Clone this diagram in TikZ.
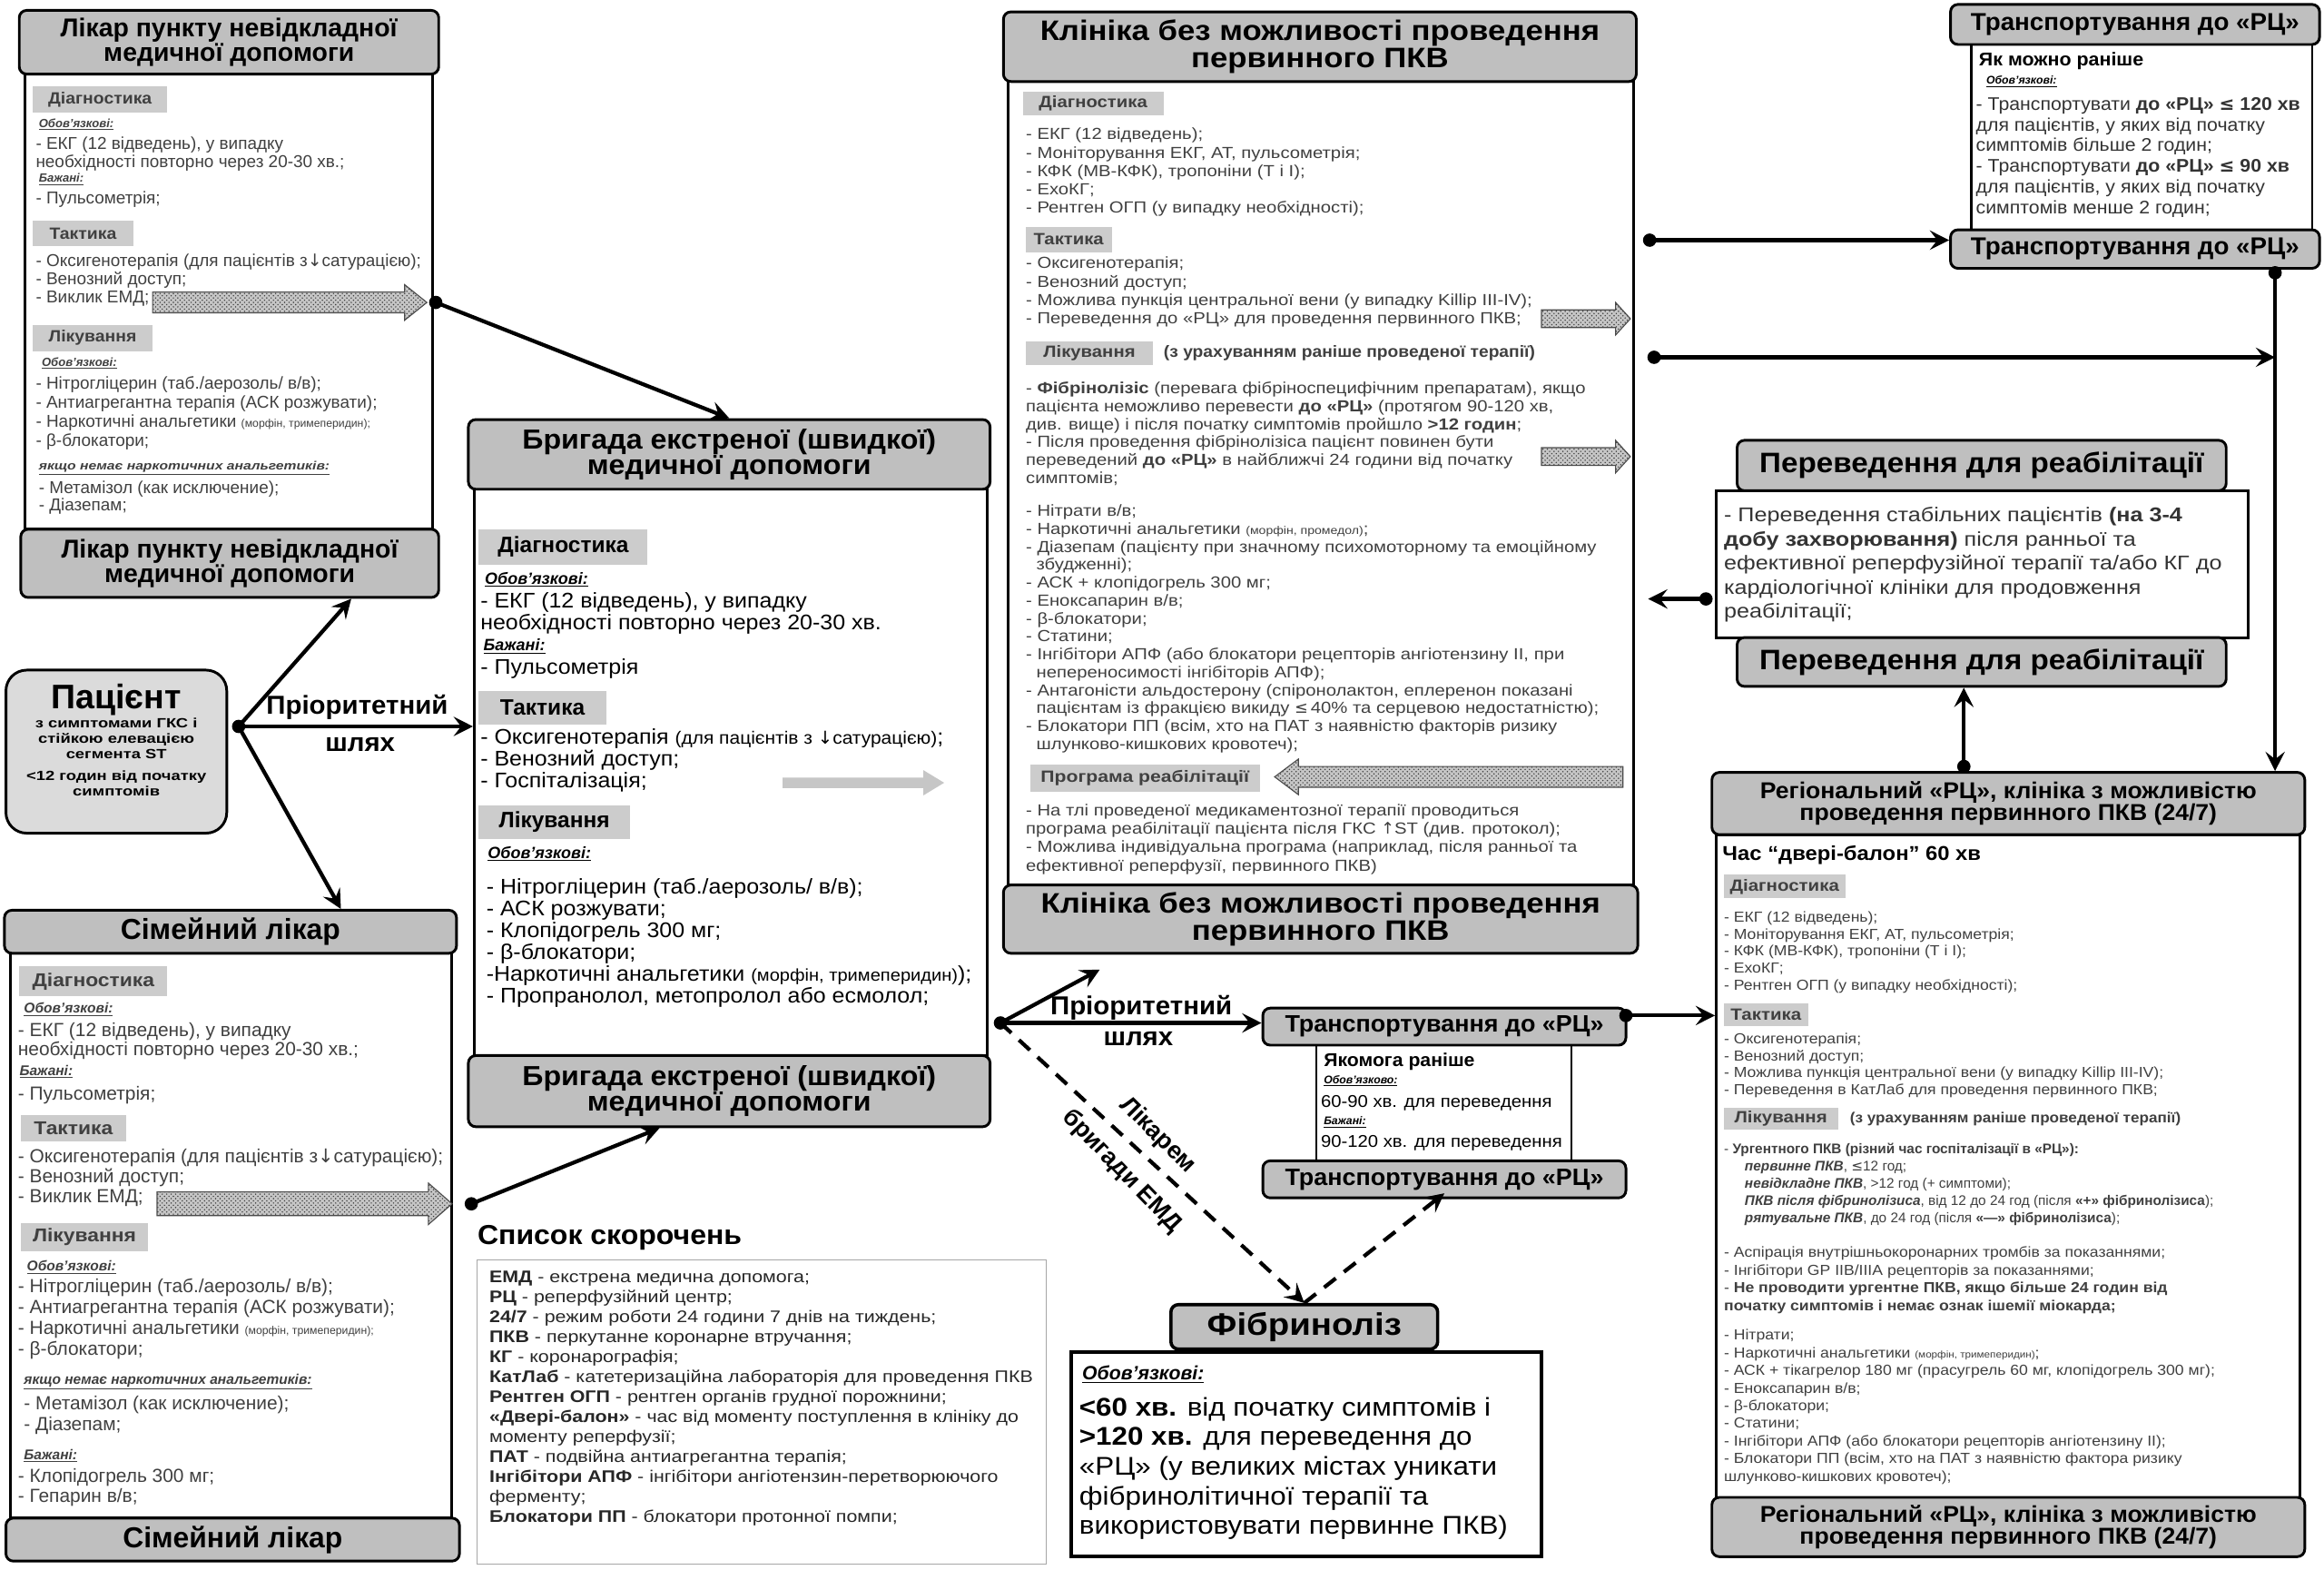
\documentclass[tikz,border=0pt]{standalone}
\usepackage{fontspec}
\setmainfont{Liberation Sans}
\newfontfamily\symfont{DejaVu Sans}
\usetikzlibrary{arrows.meta,patterns}
\definecolor{hdrgray}{gray}{0.75}
\definecolor{taggray}{gray}{0.8}
\definecolor{patgray}{gray}{0.86}
\newcommand{\fatarrow}[6]{% tail x, tip x, y, shaft half, head half, head length (signed)
  \pgfmathsetmacro\hb{#2-(#6)}
  \draw[fatarr] (#1,#3-#4) -- (\hb,#3-#4) -- (\hb,#3-#5) -- (#2,#3) -- (\hb,#3+#5) -- (\hb,#3+#4) -- (#1,#3+#4) -- cycle;}
\newcommand{\arrdn}{{\symfont\char"2193}}
\newcommand{\arrup}{{\symfont\char"2191}}
\newcommand{\lesym}{{\symfont\char"2264}}
\newcommand{\wide}[1]{\addfontfeatures{FakeStretch=#1}}
\begin{document}
\begin{tikzpicture}[x=1pt,y=-1pt,
  hdr/.style={draw, rounded corners=5pt, line width=1.8pt, fill=hdrgray, align=center, inner sep=0pt},
  hf/.style n args={3}{font=\fontsize{#1}{#2}\selectfont\wide{#3}\bfseries},
  body/.style={draw, line width=1.8pt, fill=white, inner sep=0pt},
  tag/.style 2 args={fill=taggray, inner sep=0pt, font=\fontsize{#1}{#1}\selectfont\wide{#2}\bfseries},
  lbl/.style={anchor=west, inner sep=0pt, font=\fontsize{#1}{#1}\selectfont\bfseries\itshape},
  txt/.style={anchor=north west, inner sep=0pt, align=left},
  fs/.style n args={3}{font=\fontsize{#1}{#2}\selectfont\wide{#3}},
  conn/.style={line width=2.6pt, -{Stealth[length=13pt,width=13pt,inset=5pt]}},
  dot/.style={circle, fill, inner sep=0pt, minimum size=9pt},
  fatarr/.style={draw=black!70, line width=0.7pt, fill=gray!45, postaction={pattern=crosshatch dots, pattern color=black!75}}]

\useasboundingbox (0,0) rectangle (1568,1059);

% left top box
\node[body, minimum width=275pt, minimum height=307pt] (urgBody) at (154.5,203.5) {};
\node[hdr, minimum width=283pt, minimum height=43pt, hf={17.4}{15.5}{1}] (urgTop) at (154.5,28.5) {Лікар пункту невідкладної\\медичної допомоги};
\node[hdr, minimum width=282pt, minimum height=46pt, hf={17.4}{15.5}{1}] (urgBot) at (155,380) {Лікар пункту невідкладної\\медичної допомоги};
\begin{scope}[text=black!75]
\node[tag={11}{1.08}, minimum width=91pt, minimum height=18pt] (urgDiag) at (67.5,67) {Діагностика};
\node[lbl=8] (urgL1) at (26,84) {\underline{Обов’язкові:}};
\node[txt, fs={11.6}{12.7}{1}] (urgT1) at (24,92) {- ЕКГ (12 відведень), у випадку\\необхідності повторно через 20-30 хв.;};
\node[lbl=8] (urgL2) at (26,121) {\underline{Бажані:}};
\node[txt, fs={11.6}{12.7}{1}] (urgT2) at (24,129) {- Пульсометрія;};
\node[tag={11}{1.08}, minimum width=68pt, minimum height=17pt] (urgTact) at (56,157.5) {Тактика};
\node[txt, fs={11.6}{12.2}{1}] (urgT3) at (24,171) {- Оксигенотерапія (для пацієнтів з\arrdn сатурацією);\\- Венозний доступ;\\- Виклик ЕМД;};
\node[tag={11}{1.08}, minimum width=81pt, minimum height=18pt] (urgTreat) at (62.5,228) {Лікування};
\node[lbl=8] (urgL3) at (28,245) {\underline{Обов’язкові:}};
\node[txt, fs={11.6}{12.7}{1}] (urgT4) at (24,254) {- Нітрогліцерин (таб./аерозоль/ в/в);\\- Антиагрегантна терапія (АСК розжувати);\\- Наркотичні анальгетики {\fontsize{7.5}{8}\selectfont (морфін, тримеперидин);}\\- β-блокатори;};
\node[lbl=8] (urgL4) at (26,316) {\underline{\wide{1.2}якщо немає наркотичних анальгетиків:}};
\node[txt, fs={11.6}{12.2}{1}] (urgT5) at (26,324) {- Метамізол (как исключение);\\- Діазепам;};
\end{scope}
\fatarrow{103}{288}{204}{7}{12}{15}

% patient
\node[draw, rounded corners=14pt, line width=1.8pt, fill=patgray, minimum width=149pt, minimum height=110pt] (pat) at (78.5,507) {};
\node[font=\fontsize{23}{23}\selectfont\bfseries, inner sep=0pt] (patName) at (78.5,472) {Пацієнт};
\node[align=center, inner sep=0pt, anchor=north, font=\fontsize{9}{10.5}\selectfont\wide{1.25}\bfseries] (patNote) at (78.5,484) {з симптомами ГКС і\\стійкою елевацією\\сегмента ST\\[4pt]<12 годин від початку\\симптомів};

% family doctor box
\node[body, minimum width=298pt, minimum height=381pt] (famBody) at (156,833.5) {};
\node[hdr, minimum width=305pt, minimum height=29pt, hf={19.5}{19}{1}] (famTop) at (155.5,628.5) {Сімейний лікар};
\node[hdr, minimum width=306pt, minimum height=29pt, hf={19.5}{19}{1}] (famBot) at (157,1038.5) {Сімейний лікар};
\begin{scope}[text=black!75]
\node[tag={12.5}{1.12}, minimum width=100pt, minimum height=20pt] (famDiag) at (63,662) {Діагностика};
\node[lbl=9.5] (famL1) at (16,681) {\underline{Обов’язкові:}};
\node[txt, fs={12.8}{13.2}{1}] (famT1) at (12,689.5) {- ЕКГ (12 відведень), у випадку\\необхідності повторно через 20-30 хв.;};
\node[lbl=9.5] (famL2) at (13,723) {\underline{Бажані:}};
\node[txt, fs={12.8}{13.2}{1}] (famT2) at (12,732.5) {- Пульсометрія;};
\node[tag={12.5}{1.12}, minimum width=71pt, minimum height=18pt] (famTact) at (49.5,761) {Тактика};
\node[txt, fs={12.8}{13.5}{1}] (famT3) at (12,774.5) {- Оксигенотерапія (для пацієнтів з\arrdn сатурацією);\\- Венозний доступ;\\- Виклик ЕМД;};
\node[tag={12.5}{1.12}, minimum width=86pt, minimum height=19pt] (famTreat) at (57,834.5) {Лікування};
\node[lbl=9.5] (famL3) at (18,855) {\underline{Обов’язкові:}};
\node[txt, fs={12.8}{14}{1}] (famT4) at (12,862.5) {- Нітрогліцерин (таб./аерозоль/ в/в);\\- Антиагрегантна терапія (АСК розжувати);\\- Наркотичні анальгетики {\fontsize{7.5}{8}\selectfont (морфін, тримеперидин);}\\- β-блокатори;};
\node[lbl=9.5] (famL4) at (16,932) {\underline{якщо немає наркотичних анальгетиків:}};
\node[txt, fs={12.8}{14}{1}] (famT5) at (16,941.5) {- Метамізол (как исключение);\\- Діазепам;};
\node[lbl=9.5] (famL5) at (16,982) {\underline{Бажані:}};
\node[txt, fs={12.8}{13.5}{1}] (famT6) at (12,990.5) {- Клопідогрель 300 мг;\\- Гепарин в/в;};
\end{scope}
\fatarrow{106}{305}{812}{8}{14}{16}

% emergency team box
\node[body, minimum width=346pt, minimum height=382pt] (emdBody) at (493,521) {};
\node[hdr, minimum width=352pt, minimum height=47pt, hf={18.6}{17}{1.06}] (emdTop) at (492,306.5) {Бригада екстреної (швидкої)\\медичної допомоги};
\node[hdr, minimum width=352pt, minimum height=48pt, hf={18.6}{17}{1.06}] (emdBot) at (492,736) {Бригада екстреної (швидкої)\\медичної допомоги};
\node[tag={15}{1}, minimum width=114pt, minimum height=24pt] (emdDiag) at (380,369) {Діагностика};
\node[lbl=11] (emdL1) at (327,391) {\underline{Обов’язкові:}};
\node[txt, fs={14.3}{14.5}{1.07}] (emdT1) at (324,399.5) {- ЕКГ (12 відведень), у випадку\\необхідності повторно через 20-30 хв.};
\node[lbl=11] (emdL2) at (326,436) {\underline{Бажані:}};
\node[txt, fs={14.3}{14.5}{1.07}] (emdT2) at (324,444.5) {- Пульсометрія};
\node[tag={15}{1}, minimum width=86pt, minimum height=23pt] (emdTact) at (366,477.5) {Тактика};
\node[txt, fs={14.3}{14.5}{1.07}] (emdT3) at (324,491.5) {- Оксигенотерапія {\fontsize{12}{12}\selectfont (для пацієнтів з \arrdn сатурацією)};\\- Венозний доступ;\\- Госпіталізація;};
\node[tag={15}{1}, minimum width=102pt, minimum height=23pt] (emdTreat) at (374,554.5) {Лікування};
\node[lbl=11] (emdL3) at (329,576) {\underline{Обов’язкові:}};
\node[txt, fs={14.3}{14.7}{1.07}] (emdT4) at (328,592.5) {- Нітрогліцерин (таб./аерозоль/ в/в);\\- АСК розжувати;\\- Клопідогрель 300 мг;\\- β-блокатори;\\-Наркотичні анальгетики {\fontsize{11.5}{12}\selectfont (морфін, тримеперидин)});\\- Пропранолол, метопролол або есмолол;};
\fill[gray!45] (528,524.5) -- (623,524.5) -- (623,519.5) -- (637,528) -- (623,536.5) -- (623,531.5) -- (528,531.5) -- cycle;

% clinic without PCI
\node[body, minimum width=422pt, minimum height=542pt] (clnBody) at (891,326) {};
\node[hdr, minimum width=427pt, minimum height=47pt, hf={19}{18}{1.12}] (clnTop) at (890.5,31.5) {Клініка без можливості проведення\\первинного ПКВ};
\node[hdr, minimum width=428pt, minimum height=46pt, hf={19}{18}{1.12}] (clnBot) at (891,620) {Клініка без можливості проведення\\первинного ПКВ};
\begin{scope}[text=black!75]
\node[tag={11}{1.13}, minimum width=95pt, minimum height=16pt] (clnDiag) at (737.5,70) {Діагностика};
\node[txt, fs={10.8}{12.4}{1.15}] (clnT1) at (692,86.2) {- ЕКГ (12 відведень);\\- Моніторування ЕКГ, АТ, пульсометрія;\\- КФК (МВ-КФК), тропоніни (Т і І);\\- ЕхоКГ;\\- Рентген ОГП (у випадку необхідності);};
\node[tag={11}{1.13}, minimum width=58pt, minimum height=17pt] (clnTact) at (721,161.5) {Тактика};
\node[txt, fs={10.8}{12.4}{1.15}] (clnT2) at (692,173.2) {- Оксигенотерапія;\\- Венозний доступ;\\- Можлива пункція центральної вени (у випадку Killip III-IV);\\- Переведення до «РЦ» для проведення первинного ПКВ;};
\node[tag={11}{1.13}, minimum width=86pt, minimum height=16pt] (clnTreat) at (735,238) {Лікування};
\node[anchor=west, inner sep=0pt, font=\fontsize{11}{11}\selectfont\wide{1.07}\bfseries] (clnTreatN) at (785,238) {(з урахуванням раніше проведеної терапії)};
\node[txt, fs={10.8}{12.2}{1.15}] (clnT3) at (692,257.2) {- \textbf{Фібрінолізіс} (перевага фібріноспецифічним препаратам), якщо\\пацієнта неможливо перевести \textbf{до «РЦ»} (протягом 90-120 хв,\\див. вище) і після початку симптомів пройшло \textbf{>12 годин};\\- Після проведення фібрінолізіса пацієнт повинен бути\\переведений \textbf{до «РЦ»} в найближчі 24 години від початку\\симптомів;};
\node[txt, fs={10.8}{12.1}{1.15}] (clnT4) at (692,340.2) {- Нітрати в/в;\\- Наркотичні анальгетики {\fontsize{7.5}{8}\selectfont (морфін, промедол)};\\- Діазепам (пацієнту при значному психомоторному та емоційному\\\hspace*{7pt}збудженні);\\- АСК + клопідогрель 300 мг;\\- Еноксапарин в/в;\\- β-блокатори;\\- Статини;\\- Інгібітори АПФ (або блокатори рецепторів ангіотензину II, при\\\hspace*{7pt}непереносимості інгібіторів АПФ);\\- Антагоністи альдостерону (спіронолактон, еплеренон показані\\\hspace*{7pt}пацієнтам із фракцією викиду \lesym\,40\% та серцевою недостатністю);\\- Блокатори ПП (всім, хто на ПАТ з наявністю факторів ризику\\\hspace*{7pt}шлунково-кишкових кровотеч);};
\node[tag={11}{1.18}, minimum width=155pt, minimum height=18pt] (clnRehab) at (772.5,525) {Програма реабілітації};
\node[txt, fs={10.8}{12.4}{1.15}] (clnT5) at (692,542.2) {- На тлі проведеної медикаментозної терапії проводиться\\програма реабілітації пацієнта після ГКС \arrup ST (див. протокол);\\- Можлива індивідуальна програма (наприклад, після ранньої та\\ефективної реперфузії, первинного ПКВ)};
\end{scope}
\fatarrow{1040}{1100}{215}{6}{11}{10}
\fatarrow{1040}{1100}{308}{6}{11}{10}
\fatarrow{1095}{860}{524}{7}{12}{-16}

% transport (top right)
\node[body, minimum width=230pt, minimum height=125pt] (trbBody) at (1445,92.5) {};
\node[hdr, minimum width=249pt, minimum height=27pt, hf={16.5}{16.5}{1.03}] (trbTop) at (1440.5,16.5) {Транспортування до «РЦ»};
\node[hdr, minimum width=249pt, minimum height=26pt, hf={16.5}{16.5}{1.03}] (trbBot) at (1440.5,168) {Транспортування до «РЦ»};
\node[anchor=west, inner sep=0pt, font=\fontsize{12.5}{12.5}\selectfont\wide{1.05}\bfseries] (trbHead) at (1335,41) {Як можно раніше};
\node[lbl=7.5] (trbL1) at (1340,55) {\underline{Обов’язкові:}};
\node[txt, fs={12.3}{14}{1.06}, text=black!80] (trbT1) at (1333,65.5) {- Транспортувати \textbf{до «РЦ» \lesym\ 120 хв}\\для пацієнтів, у яких від початку\\симптомів більше 2 годин;\\- Транспортувати \textbf{до «РЦ» \lesym\ 90 хв}\\для пацієнтів, у яких від початку\\симптомів менше 2 годин;};

% rehabilitation transfer
\node[body, minimum width=359pt, minimum height=99pt] (rehBody) at (1337.5,380.5) {};
\node[hdr, minimum width=330pt, minimum height=34pt, hf={19}{19}{1.07}] (rehTop) at (1337,314) {Переведення для реабілітації};
\node[hdr, minimum width=330pt, minimum height=33pt, hf={19}{19}{1.07}] (rehBot) at (1337,446.5) {Переведення для реабілітації};
\node[txt, fs={13.4}{16.2}{1.15}, text=black!80] (rehT1) at (1163,342) {- Переведення стабільних пацієнтів \textbf{(на 3-4}\\\textbf{добу захворювання)} після ранньої та\\ефективної реперфузійної терапії та/або КГ до\\кардіологічної клініки для продовження\\реабілітації;};

% regional centre
\node[body, minimum width=394pt, minimum height=447pt] (rcBody) at (1355,786.5) {};
\node[hdr, minimum width=400pt, minimum height=42pt, hf={15.5}{15}{1.05}] (rcTop) at (1355,542) {Регіональний «РЦ», клініка з можливістю\\проведення первинного ПКВ (24/7)};
\node[hdr, minimum width=400pt, minimum height=40pt, hf={15.5}{15}{1.05}] (rcBot) at (1355,1030) {Регіональний «РЦ», клініка з можливістю\\проведення первинного ПКВ (24/7)};
\node[anchor=west, inner sep=0pt, font=\fontsize{13.5}{13.5}\selectfont\wide{1.08}\bfseries] (rcTime) at (1162,577) {Час “двері-балон” 60 хв};
\begin{scope}[text=black!75]
\node[tag={11}{1.14}, minimum width=82pt, minimum height=16pt] (rcDiag) at (1204,598) {Діагностика};
\node[txt, fs={9.8}{11.5}{1.1}] (rcT1) at (1163,614.6) {- ЕКГ (12 відведень);\\- Моніторування ЕКГ, АТ, пульсометрія;\\- КФК (МВ-КФК), тропоніни (Т і І);\\- ЕхоКГ;\\- Рентген ОГП (у випадку необхідності);};
\node[tag={11}{1.14}, minimum width=57pt, minimum height=15pt] (rcTact) at (1191.5,684.5) {Тактика};
\node[txt, fs={9.8}{11.5}{1.1}] (rcT2) at (1163,696.6) {- Оксигенотерапія;\\- Венозний доступ;\\- Можлива пункція центральної вени (у випадку Killip III-IV);\\- Переведення в КатЛаб для проведення первинного ПКВ;};
\node[tag={11}{1.14}, minimum width=77pt, minimum height=15pt] (rcTreat) at (1201.5,754.5) {Лікування};
\node[anchor=west, inner sep=0pt, font=\fontsize{9.8}{10}\selectfont\wide{1.07}\bfseries] (rcTreatN) at (1248,755) {(з урахуванням раніше проведеної терапії)};
\node[txt, fs={9.4}{11.7}{1}] (rcT3) at (1163,770.8) {- \textbf{Ургентного ПКВ (різний час госпіталізації в «РЦ»):}\\\hspace*{14pt}\textbf{\textit{первинне ПКВ}}, \lesym 12 год;\\\hspace*{14pt}\textbf{\textit{невідкладне ПКВ}}, >12 год (+ симптоми);\\\hspace*{14pt}\textbf{\textit{ПКВ після фібринолізиса}}, від 12 до 24 год (після \textbf{«+» фібринолізиса});\\\hspace*{14pt}\textbf{\textit{рятувальне ПКВ}}, до 24 год (після \textbf{«—» фібринолізиса});};
\node[txt, fs={9.8}{12}{1.1}] (rcT4) at (1163,840.6) {- Аспірація внутрішньокоронарних тромбів за показаннями;\\- Інгібітори GP IIB/IIIA рецепторів за показаннями;\\- \textbf{Не проводити ургентне ПКВ, якщо більше 24 годин від}\\\textbf{початку симптомів і немає ознак ішемії міокарда;}};
\node[txt, fs={9.8}{11.9}{1.1}] (rcT5) at (1163,896.6) {- Нітрати;\\- Наркотичні анальгетики {\fontsize{6.5}{7}\selectfont (морфін, тримеперидин)};\\- АСК + тікагрелор 180 мг (прасугрель 60 мг, клопідогрель 300 мг);\\- Еноксапарин в/в;\\- β-блокатори;\\- Статини;\\- Інгібітори АПФ (або блокатори рецепторів ангіотензину II);\\- Блокатори ПП (всім, хто на ПАТ з наявністю фактора ризику\\шлунково-кишкових кровотеч);};
\end{scope}

% transport (middle)
\node[body, line width=1.2pt, minimum width=172pt, minimum height=78pt] (traBody) at (974,744) {};
\node[hdr, minimum width=245pt, minimum height=25pt, hf={16}{16}{1.03}] (traTop) at (974.5,692.5) {Транспортування до «РЦ»};
\node[hdr, minimum width=245pt, minimum height=25pt, hf={16}{16}{1.03}] (traBot) at (974.5,795.5) {Транспортування до «РЦ»};
\node[anchor=west, inner sep=0pt, font=\fontsize{12.5}{12.5}\selectfont\wide{1.04}\bfseries] (traHead) at (893,716) {Якомога раніше};
\node[lbl=7.5] (traL1) at (893,729) {\underline{Обов’язково:}};
\node[anchor=west, inner sep=0pt, font=\fontsize{11.5}{12}\selectfont\wide{1.08}] (traT1) at (891,744) {60-90 хв. для переведення};
\node[lbl=7.5] (traL2) at (893,757) {\underline{Бажані:}};
\node[anchor=west, inner sep=0pt, font=\fontsize{11.5}{12}\selectfont\wide{1.08}] (traT2) at (891,771) {90-120 хв. для переведення};

% fibrinolysis
\node[body, line width=2.4pt, minimum width=317pt, minimum height=138pt] (fibBody) at (881.5,981) {};
\node[hdr, line width=2.2pt, minimum width=180pt, minimum height=30pt, hf={21}{21}{1.12}] (fibTop) at (880,895) {Фібриноліз};
\node[lbl=13] (fibL1) at (730,927) {\underline{Обов’язкові:}};
\node[txt, fs={17.3}{20}{1.11}] (fibT1) at (728,942.2) {\textbf{<60 хв.} від початку симптомів і\\\textbf{>120 хв.} для переведення до\\«РЦ» (у великих містах уникати\\фібринолітичної терапії та\\використовувати первинне ПКВ)};

% abbreviations
\node[anchor=west, inner sep=0pt, font=\fontsize{18.5}{18.5}\selectfont\wide{1.06}\bfseries] (abbrHead) at (322,835) {Список скорочень};
\node[draw=gray!70, line width=0.8pt, minimum width=384pt, minimum height=205pt] (abbrBody) at (514,952.5) {};
\node[txt, fs={11.3}{13.5}{1.16}, text=black!85] (abbrT) at (330,857) {\textbf{ЕМД} - екстрена медична допомога;\\\textbf{РЦ} - реперфузійний центр;\\\textbf{24/7} - режим роботи 24 години 7 днів на тиждень;\\\textbf{ПКВ} - перкутанне коронарне втручання;\\\textbf{КГ} - коронарографія;\\\textbf{КатЛаб} - катетеризаційна лабораторія для проведення ПКВ\\\textbf{Рентген ОГП} - рентген органів грудної порожнини;\\\textbf{«Двері-балон»} - час від моменту поступлення в клініку до\\моменту реперфузії;\\\textbf{ПАТ} - подвійна антиагрегантна терапія;\\\textbf{Інгібітори АПФ} - інгібітори ангіотензин-перетворюючого\\ферменту;\\\textbf{Блокатори ПП} - блокатори протонної помпи;};

% connectors
\node[dot] (patDot) at (161,490) {};
\draw[conn] (patDot.center) -- ([xshift=82pt]urgBot.south);
\draw[conn] (patDot.center) -- (emdBody.west |- patDot);
\draw[conn] (patDot.center) -- ([xshift=74.5pt]famTop.north);
\node[font=\fontsize{17.5}{17.5}\selectfont\wide{1.03}\bfseries, inner sep=0pt] (patLab1) at (241,477) {Пріоритетний};
\node[font=\fontsize{17.5}{17.5}\selectfont\wide{1.03}\bfseries, inner sep=0pt] (patLab2) at (243,502) {шлях};

\node[dot] (urgDot) at (294,204) {};
\draw[conn] (urgDot.center) -- (emdTop.north);
\node[dot] (famDot) at (318,812) {};
\draw[conn] (famDot.center) -- ([xshift=-47pt]emdBot.south);

\node[dot] (emdDot) at (675,690) {};
\coordinate (clnIn) at (742,654);
\draw[conn] (emdDot.center) -- (clnIn);
\draw[conn] (emdDot.center) -- (traTop.west |- emdDot);
\node[font=\fontsize{17.5}{17.5}\selectfont\wide{1.03}\bfseries, inner sep=0pt] (emdLab1) at (770,680) {Пріоритетний};
\node[font=\fontsize{17.5}{17.5}\selectfont\wide{1.03}\bfseries, inner sep=0pt] (emdLab2) at (768,701) {шлях};
\draw[conn, dash pattern=on 10pt off 7pt] (emdDot.center) -- (fibTop.north);
\draw[conn, dash pattern=on 10pt off 7pt] (fibTop.north) -- ([yshift=4pt]traBot.south);
\node[font=\fontsize{16.5}{16.5}\selectfont\bfseries, inner sep=0pt, rotate=-45] (fibLab1) at (781,766) {Лікарем};
\node[font=\fontsize{16.5}{16.5}\selectfont\bfseries, inner sep=0pt, rotate=-46] (fibLab2) at (757,790) {бригади ЕМД};

\node[dot] (traDot) at (1097,685) {};
\draw[conn] (traDot.center) -- (rcBody.west |- traDot);

\node[dot] (clnDot1) at (1113,162) {};
\draw[conn] (clnDot1.center) -- (trbBot.west |- clnDot1);
\node[dot] (trbDot) at (1535,184) {};
\draw[conn] (trbDot.center) -- ([xshift=180pt]rcTop.north);
\node[dot] (clnDot2) at (1116,241) {};
\draw[conn] (clnDot2.center) -- (clnDot2 -| trbDot);

\node[dot] (rehDot) at (1151,404) {};
\coordinate (rehOut) at (1112,404);
\draw[conn] (rehDot.center) -- (rehOut);
\node[dot] (rcDot) at (1325,517) {};
\draw[conn] (rcDot.center) -- ([xshift=-12pt]rehBot.south);

\end{tikzpicture}
\end{document}
